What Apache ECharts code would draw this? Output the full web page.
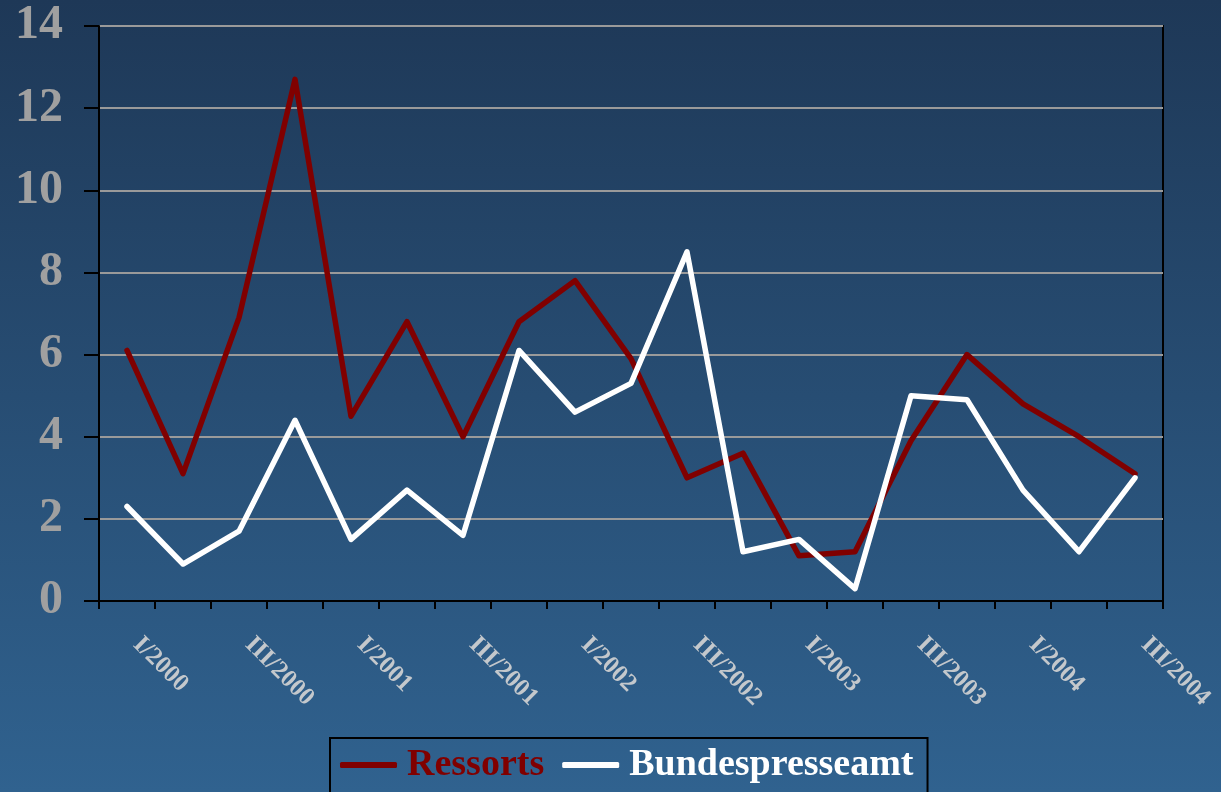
<!DOCTYPE html>
<html>
<head>
<meta charset="utf-8">
<script src="https://cdn.jsdelivr.net/npm/echarts@6/dist/echarts.min.js"></script>
<style>
html,body{margin:0;padding:0;}
#chart{width:1221px;height:792px;}
</style>
</head>
<body>
<div id="chart"></div>
<script>
const categories = ['I/2000','II/2000','III/2000','IV/2000','I/2001','II/2001','III/2001','IV/2001','I/2002','II/2002','III/2002','IV/2002','I/2003','II/2003','III/2003','IV/2003','I/2004','II/2004','III/2004'];
const ressorts = [6.1,3.1,6.9,12.7,4.5,6.8,4.0,6.8,7.8,5.9,3.0,3.6,1.1,1.2,3.9,6.0,4.8,4.0,3.1];
const bundespresseamt = [2.3,0.9,1.7,4.4,1.5,2.7,1.6,6.1,4.6,5.3,8.5,1.2,1.5,0.3,5.0,4.9,2.7,1.2,3.0];
const seriesNames = ['Ressorts','Bundespresseamt'];

const chart = echarts.init(document.getElementById('chart'));
const font = "'Liberation Serif', 'Times New Roman', serif";
chart.setOption({
  backgroundColor: new echarts.graphic.LinearGradient(0,0,0,1,[
    {offset:0,color:'#1e3857'},
    {offset:1,color:'#30628f'}
  ]),
  animation:false,
  grid:{left:99,right:58,top:26,bottom:191,show:true,borderColor:'#000',borderWidth:2,backgroundColor:'transparent'},
  legend:{
    left:330, top:738,
    orient:'horizontal',
    padding:[8,14,20,10],
    borderColor:'#000', borderWidth:2,
    icon:'roundRect',
    itemWidth:57, itemHeight:6, itemGap:18,
    textStyle:{fontFamily:font,fontWeight:'bold',fontSize:38,padding:[0,0,0,5]},
    data:[
      {name:seriesNames[0],textStyle:{color:'#800000'}},
      {name:seriesNames[1],textStyle:{color:'#ffffff'}}
    ]
  },
  xAxis:{
    type:'category',
    data:categories,
    boundaryGap:true,
    axisLine:{lineStyle:{color:'#000',width:2}},
    axisTick:{show:true,interval:0,length:8,lineStyle:{color:'#000',width:2}},
    axisLabel:{interval:1,rotate:-45,margin:30,padding:[0,0,0,14],color:'#c4c8cc',fontFamily:font,fontWeight:'bold',fontSize:25},
    splitLine:{show:false}
  },
  yAxis:{
    type:'value',
    min:0,max:14,interval:2,
    axisLine:{show:true,lineStyle:{color:'#000',width:2}},
    axisTick:{show:true,length:15,lineStyle:{color:'#000',width:2}},
    axisLabel:{margin:36,color:'#a0a0a0',fontFamily:font,fontWeight:'bold',fontSize:48},
    splitLine:{show:true,lineStyle:{color:'#9a9a9a',width:2}}
  },
  series:[
    {name:seriesNames[0],type:'line',data:ressorts,symbol:'none',lineStyle:{color:'#800000',width:5.5,cap:'round',join:'round'},itemStyle:{color:'#800000'}},
    {name:seriesNames[1],type:'line',data:bundespresseamt,symbol:'none',lineStyle:{color:'#ffffff',width:5.5,cap:'round',join:'round'},itemStyle:{color:'#ffffff'}}
  ]
});
</script>
</body>
</html>
